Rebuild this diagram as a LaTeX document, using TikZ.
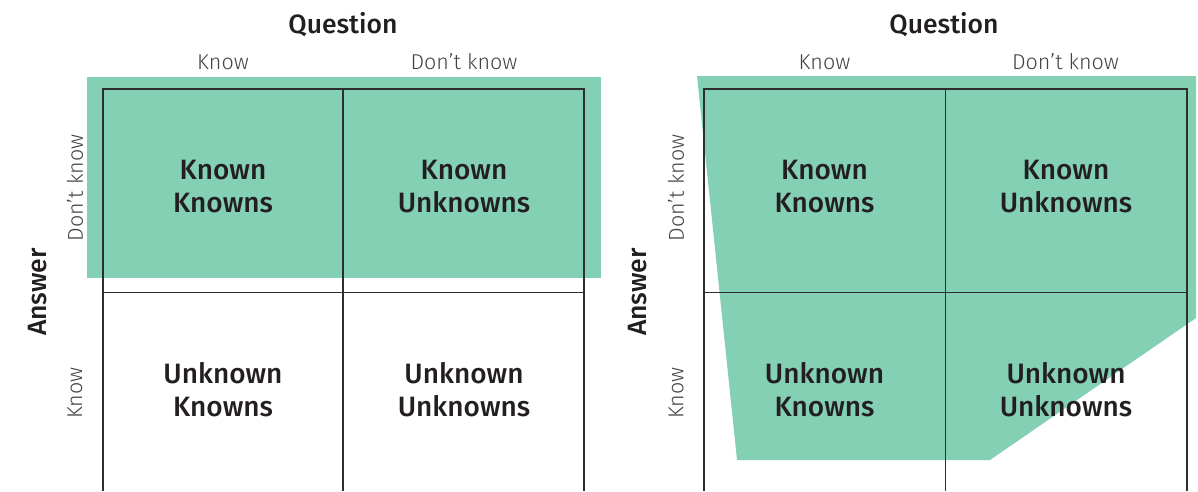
\documentclass[tikz,border=0pt]{standalone}
\usepackage{fontspec}
\setmainfont{Fira Sans}
\newfontfamily\lightf{Fira Sans Light}
\newfontfamily\medf{Fira Sans Medium}
\definecolor{mint}{HTML}{84D0B4}
\definecolor{ink}{HTML}{231F20}
\definecolor{gridc}{HTML}{2E2E2E}
\begin{document}
\begin{tikzpicture}[x=1pt,y=-1pt,
  gridline/.style={draw=gridc,line width=1.1pt},
  heading/.style={font=\medf\fontsize{26.5}{26.5}\selectfont,text=ink,inner sep=0pt},
  axislbl/.style={font=\lightf\fontsize{21.5}{21.5}\selectfont,text=ink!85,inner sep=0pt},
  cell/.style={font=\medf\fontsize{28}{33}\selectfont,text=ink,align=center,inner sep=0pt}]
\useasboundingbox (0,0) rectangle (1198,491);
% ---------- left panel ----------
\fill[mint] (87,77) rectangle (601,278);
\draw[gridline] (103,491) -- (103,89) -- (584,89) -- (584,491);
\draw[gridline] (343,89) -- (343,491);
\draw[gridline] (103,292.5) -- (584,292.5);
\node[heading] (lq) at (343,25) {Question};
\node[axislbl] (lk) at (223,62) {Know};
\node[axislbl] (ld) at (464,62) {Don’t know};
\node[heading,rotate=90] (la) at (38,292) {Answer};
\node[axislbl,rotate=90] (lad) at (75,188) {Don’t know};
\node[axislbl,rotate=90] (lak) at (75,393) {Know};
\node[cell] (lkk) at (223,187) {Known\\Knowns};
\node[cell] (lku) at (464,187) {Known\\Unknowns};
\node[cell] (luk) at (223,390) {Unknown\\Knowns};
\node[cell] (luu) at (464,390) {Unknown\\Unknowns};
% ---------- right panel ----------
\fill[mint] (697,76) -- (1196,76) -- (1196,318) -- (990,460) -- (737,460) -- cycle;
\draw[gridline] (704,491) -- (704,89) -- (1187,89) -- (1187,491);
\draw[gridline] (945.5,89) -- (945.5,491);
\draw[gridline] (704,292.5) -- (1187,292.5);
\node[heading] (rq) at (944,25) {Question};
\node[axislbl] (rk) at (824.5,62) {Know};
\node[axislbl] (rd) at (1065.5,62) {Don’t know};
\node[heading,rotate=90] (ra) at (638,292) {Answer};
\node[axislbl,rotate=90] (rad) at (676,188) {Don’t know};
\node[axislbl,rotate=90] (rak) at (676,393) {Know};
\node[cell] (rkk) at (824.5,187) {Known\\Knowns};
\node[cell] (rku) at (1066,187) {Known\\Unknowns};
\node[cell] (ruk) at (824.5,390) {Unknown\\Knowns};
\node[cell] (ruu) at (1066,390) {Unknown\\Unknowns};
\end{tikzpicture}
\end{document}
